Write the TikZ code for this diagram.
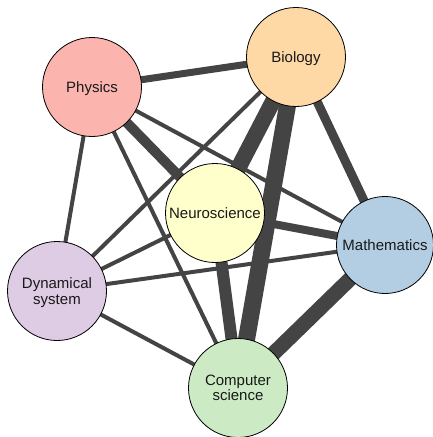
\documentclass[tikz,border=0pt]{standalone}
\usepackage{fontspec}
\setmainfont{Liberation Sans}
\usetikzlibrary{backgrounds}

\definecolor{physcol}{HTML}{FBB4AE}
\definecolor{biocol}{HTML}{FED9A6}
\definecolor{neurocol}{HTML}{FFFFCC}
\definecolor{mathcol}{HTML}{B3CDE3}
\definecolor{dyncol}{HTML}{DECBE4}
\definecolor{compcol}{HTML}{CCEBC5}
\definecolor{linkcol}{HTML}{444444}

\tikzset{
	field/.style={circle, draw=black, line width=0.8pt, fill=#1, text=black!90,
		minimum size=99pt, inner sep=0pt, align=center, text depth=0pt,
		font=\fontsize{15}{15.5}\selectfont},
	link/.style={draw=linkcol, line width=#1},
}

\begin{document}
\begin{tikzpicture}[x=1pt, y=-1pt]

% frame %{{{2

	\useasboundingbox (0,0) rectangle (433,437);

% fields %{{{2

	\node[field=physcol]  (Phys)  at (92,87)   {Physics};
	\node[field=biocol]   (Bio)   at (296,57)  {Biology};
	\node[field=neurocol] (Neuro) at (215,213) {Neuroscience};
	\node[field=mathcol, minimum size=97pt] (Math) at (385,245) {Mathematics};
	\node[field=dyncol]   (Dyn)   at (57,291)  {Dynamical\\system};
	\node[field=compcol]  (Comp)  at (238,388) {Computer\\science};

% links %{{{2

	\begin{scope}[on background layer]
	\draw[link=7pt]  (Phys.center)  -- (Bio.center);
	\draw[link=10pt] (Phys.center)  -- (Neuro.center);
	\draw[link=16pt] (Bio.center)   -- (Neuro.center);
	\draw[link=17pt] (Bio.center)   -- (Comp.center);
	\draw[link=9pt]  (Bio.center)   -- (Math.center);
	\draw[link=8pt]  (Neuro.center) -- (Math.center);
	\draw[link=12pt] (Neuro.center) -- (Comp.center);
	\draw[link=15pt] (Math.center)  -- (Comp.center);

	\foreach \a/\b in {Phys/Math, Phys/Dyn, Phys/Comp, Bio/Dyn, Neuro/Dyn, Math/Dyn, Dyn/Comp}
		{ \draw[link=4pt] (\a.center) -- (\b.center); }
	\end{scope}

% closing %{{{2

\end{tikzpicture}
\end{document}
